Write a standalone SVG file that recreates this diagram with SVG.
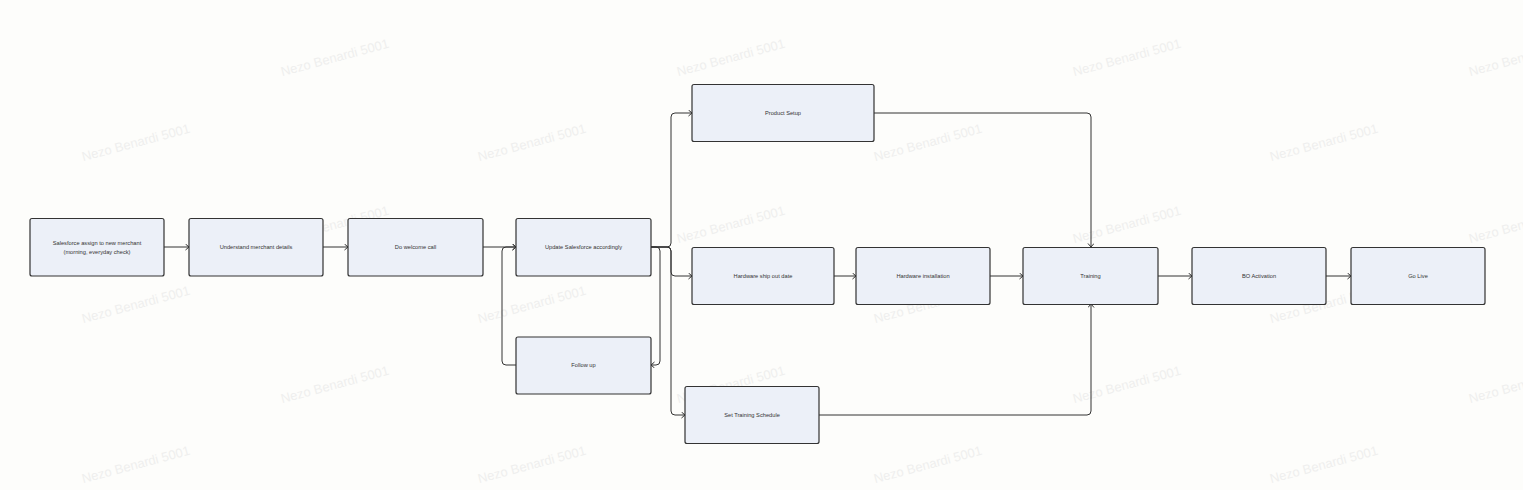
<svg xmlns="http://www.w3.org/2000/svg" width="1523" height="490" viewBox="0 0 1523 490">
<style>
.wm{font-family:"Liberation Sans",Arial,sans-serif;font-size:13px;fill:#efefee;text-anchor:middle}
.box{fill:#ecf0f8;stroke:#333;stroke-width:1.2}
.lbl{font-family:"Liberation Sans",Arial,sans-serif;font-size:5.7px;fill:#333;text-anchor:middle;dominant-baseline:central}
.con{fill:none;stroke:#333;stroke-width:1;marker-end:url(#arr)}
</style>
<defs>
<marker id="arr" markerUnits="userSpaceOnUse" markerWidth="8" markerHeight="8" refX="4" refY="3" orient="auto">
<path d="M0.5,0 L4,3 L0.5,6" fill="none" stroke="#333" stroke-width="1"/>
</marker>
</defs>
<rect width="1523" height="490" fill="#fdfdfb"/>
<g id="watermarks">
<text class="wm" x="335" y="62" transform="rotate(-15 335 58)">Nezo Benardi 5001</text>
<text class="wm" x="731" y="62" transform="rotate(-15 731 58)">Nezo Benardi 5001</text>
<text class="wm" x="1127" y="62" transform="rotate(-15 1127 58)">Nezo Benardi 5001</text>
<text class="wm" x="1523" y="62" transform="rotate(-15 1523 58)">Nezo Benardi 5001</text>
<text class="wm" x="136" y="147" transform="rotate(-15 136 143)">Nezo Benardi 5001</text>
<text class="wm" x="532" y="147" transform="rotate(-15 532 143)">Nezo Benardi 5001</text>
<text class="wm" x="928" y="147" transform="rotate(-15 928 143)">Nezo Benardi 5001</text>
<text class="wm" x="1324" y="147" transform="rotate(-15 1324 143)">Nezo Benardi 5001</text>
<text class="wm" x="335" y="229" transform="rotate(-15 335 225)">Nezo Benardi 5001</text>
<text class="wm" x="731" y="229" transform="rotate(-15 731 225)">Nezo Benardi 5001</text>
<text class="wm" x="1127" y="229" transform="rotate(-15 1127 225)">Nezo Benardi 5001</text>
<text class="wm" x="1523" y="229" transform="rotate(-15 1523 225)">Nezo Benardi 5001</text>
<text class="wm" x="136" y="309" transform="rotate(-15 136 305)">Nezo Benardi 5001</text>
<text class="wm" x="532" y="309" transform="rotate(-15 532 305)">Nezo Benardi 5001</text>
<text class="wm" x="928" y="309" transform="rotate(-15 928 305)">Nezo Benardi 5001</text>
<text class="wm" x="1324" y="309" transform="rotate(-15 1324 305)">Nezo Benardi 5001</text>
<text class="wm" x="335" y="389" transform="rotate(-15 335 385)">Nezo Benardi 5001</text>
<text class="wm" x="731" y="389" transform="rotate(-15 731 385)">Nezo Benardi 5001</text>
<text class="wm" x="1127" y="389" transform="rotate(-15 1127 385)">Nezo Benardi 5001</text>
<text class="wm" x="1523" y="389" transform="rotate(-15 1523 385)">Nezo Benardi 5001</text>
<text class="wm" x="136" y="469" transform="rotate(-15 136 465)">Nezo Benardi 5001</text>
<text class="wm" x="532" y="469" transform="rotate(-15 532 465)">Nezo Benardi 5001</text>
<text class="wm" x="928" y="469" transform="rotate(-15 928 465)">Nezo Benardi 5001</text>
<text class="wm" x="1324" y="469" transform="rotate(-15 1324 465)">Nezo Benardi 5001</text>
</g>
<g id="connectors">
<path class="con" d="M164,247 H189"/>
<path class="con" d="M323,247 H348"/>
<path class="con" d="M483,247 H516"/>
<path class="con" d="M651,247 H656 Q660,247 660,251 V361 Q660,365 656,365 H651"/>
<path class="con" d="M516,365 H506 Q502,365 502,361 V251 Q502,247 506,247 H516"/>
<path class="con" d="M651,247 H667 Q671,247 671,243 V117 Q671,113 675,113 H692"/>
<path class="con" d="M651,247 H667 Q671,247 671,251 V272 Q671,276 675,276 H692"/>
<path class="con" d="M651,247 H667 Q671,247 671,251 V411 Q671,415 675,415 H685"/>
<path class="con" d="M874,113 H1087 Q1091,113 1091,117 V247"/>
<path class="con" d="M834,276 H856"/>
<path class="con" d="M990,276 H1023"/>
<path class="con" d="M819,415 H1087 Q1091,415 1091,411 V304"/>
<path class="con" d="M1158,276 H1192"/>
<path class="con" d="M1326,276 H1351"/>
</g>
<g id="n1"><rect class="box" x="30" y="218.5" width="134" height="57.5" rx="2"/><text class="lbl" x="97" y="243">Salesforce assign to new merchant</text><text class="lbl" x="97" y="252">(morning, everyday check)</text></g>
<g id="n2"><rect class="box" x="189" y="218.5" width="134" height="57.5" rx="2"/><text class="lbl" x="256" y="247">Understand merchant details</text></g>
<g id="n3"><rect class="box" x="348" y="218.5" width="135" height="57.5" rx="2"/><text class="lbl" x="415.5" y="247">Do welcome call</text></g>
<g id="n4"><rect class="box" x="516" y="218.5" width="135" height="57.5" rx="2"/><text class="lbl" x="583.5" y="247">Update Salesforce accordingly</text></g>
<g id="n5"><rect class="box" x="516" y="337" width="135" height="57" rx="2"/><text class="lbl" x="583.5" y="365">Follow up</text></g>
<g id="n6"><rect class="box" x="692" y="84.5" width="182" height="57" rx="2"/><text class="lbl" x="783" y="113">Product Setup</text></g>
<g id="n7"><rect class="box" x="692" y="247.5" width="142" height="57" rx="2"/><text class="lbl" x="763" y="276">Hardware ship out date</text></g>
<g id="n8"><rect class="box" x="856" y="247.5" width="134" height="57" rx="2"/><text class="lbl" x="923" y="276">Hardware installation</text></g>
<g id="n9"><rect class="box" x="1023" y="247.5" width="135" height="57" rx="2"/><text class="lbl" x="1090.5" y="276">Training</text></g>
<g id="n10"><rect class="box" x="1192" y="247.5" width="134" height="57" rx="2"/><text class="lbl" x="1259" y="276">BO Activation</text></g>
<g id="n11"><rect class="box" x="1351" y="247.5" width="134" height="57" rx="2"/><text class="lbl" x="1418" y="276">Go Live</text></g>
<g id="n12"><rect class="box" x="685" y="386.5" width="134" height="57" rx="2"/><text class="lbl" x="752" y="415">Set Training Schedule</text></g>
</svg>
